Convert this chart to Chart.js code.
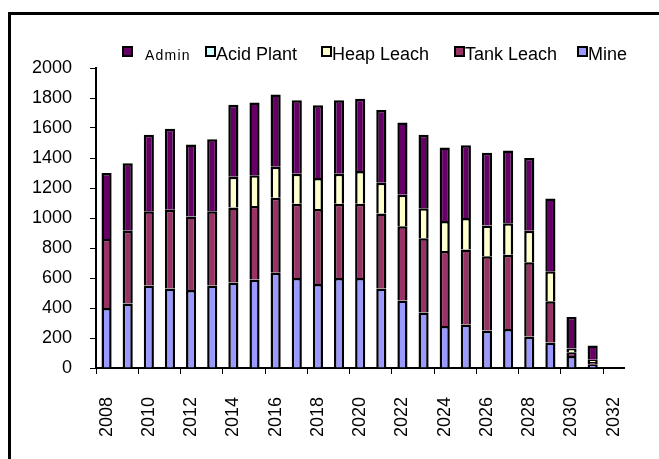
<!DOCTYPE html>
<html>
<head>
<meta charset="utf-8">
<script src="https://cdn.jsdelivr.net/npm/chart.js@4/dist/chart.umd.min.js"></script>
<style>
  html, body { margin: 0; padding: 0; background: #fff; }
  #wrap { position: relative; width: 659px; height: 459px; }
</style>
</head>
<body>
<div id="wrap"><canvas id="c" width="659" height="459"></canvas></div>
<script>
// ---- data ----
const years = ['2008','2009','2010','2011','2012','2013','2014','2015','2016','2017','2018','2019','2020',
               '2021','2022','2023','2024','2025','2026','2027','2028','2029','2030','2031','2032'];
const mine      = [400,430,550,530,520,550,570,590,635,600,560,600,600,530,450,370,280,290,250,260,210,170,80,25,null];
const tankLeach = [460,485,495,525,490,495,500,490,500,495,500,495,495,500,495,495,500,500,495,495,495,275,25,15,null];
const heapLeach = [0,0,0,0,0,0,205,205,207,200,207,200,218,205,210,200,200,210,205,210,210,200,25,15,null];
const acidPlant = [0,0,0,0,0,0,0,0,0,0,0,0,0,0,0,0,0,0,0,0,0,0,0,0,null];
const admin     = [440,450,510,540,480,480,480,485,482,490,484,490,482,485,482,490,490,485,485,485,485,485,210,95,null];
const yTicks    = [0,200,400,600,800,1000,1200,1400,1600,1800,2000];

const FONT = '"Liberation Sans", Arial, sans-serif';
Chart.defaults.font.family = FONT;
Chart.defaults.font.size = 18;
Chart.defaults.color = '#000';

function ds(label, data, color) {
  return { label, data, backgroundColor: color, borderColor: '#000', borderWidth: 2.5,
           barPercentage: 0.48, categoryPercentage: 1.0 };
}

// custom legend + frame (Excel-like, legend listed top-of-stack first)
const legendPlugin = {
  id: 'xlLegend',
  beforeDraw(chart) {
    const ctx = chart.ctx;
    ctx.save();
    ctx.fillStyle = '#fff';
    ctx.fillRect(0, 0, chart.width, chart.height);
    ctx.fillStyle = '#000';
    ctx.fillRect(8, 12, chart.width - 8, 3);
    ctx.fillRect(8, 12, 3, chart.height - 12);
    ctx.restore();
  },
  afterDraw(chart) {
    const ctx = chart.ctx;
    const items = chart.data.datasets.slice().reverse();
    const sqX = [123, 206, 322, 455, 578];
    ctx.save();
    items.forEach((d, i) => {
      const x = sqX[i];
      ctx.fillStyle = d.backgroundColor;
      ctx.fillRect(x, 47, 9, 9);
      ctx.strokeStyle = '#000';
      ctx.lineWidth = 2;
      ctx.strokeRect(x, 47, 9, 9);
      ctx.fillStyle = '#000';
      ctx.textBaseline = 'alphabetic';
      ctx.textAlign = 'left';
      if (i === 0) {
        ctx.font = '14px ' + FONT;
        try { ctx.letterSpacing = '1.2px'; } catch (e) {}
        ctx.fillText(d.label, 145, 60);
        try { ctx.letterSpacing = '0px'; } catch (e) {}
      } else {
        ctx.font = '18px ' + FONT;
        ctx.fillText(d.label, x + 10, 60);
      }
    });
    ctx.restore();
  }
};

new Chart(document.getElementById('c'), {
  type: 'bar',
  data: {
    labels: years,
    datasets: [
      ds('Mine', mine, '#9999FF'),
      ds('Tank Leach', tankLeach, '#993366'),
      ds('Heap Leach', heapLeach, '#FFFFCC'),
      ds('Acid Plant', acidPlant, '#CCFFFF'),
      ds('Admin', admin, '#660066')
    ]
  },
  options: {
    responsive: false,
    animation: false,
    layout: { padding: { top: 68, right: 30, bottom: 0, left: 0 } },
    plugins: { legend: { display: false }, tooltip: { enabled: false } },
    scales: {
      x: {
        stacked: true,
        offset: true,
        border: { display: true, color: '#000', width: 2 },
        grid: {
          display: true, drawOnChartArea: false, offset: true, tickLength: 6, tickWidth: 1,
          tickColor: (c) => (typeof c.index === 'number' && c.index % 2 === 0 && c.index < years.length) ? '#000' : 'rgba(0,0,0,0)'
        },
        ticks: {
          autoSkip: false, maxRotation: 90, minRotation: 90, padding: 23, color: '#000',
          font: { size: 18 },
          callback: function (v, i) { return i % 2 === 0 ? years[i] : ''; }
        },
        afterFit: (s) => { s.height = 91; }
      },
      y: {
        stacked: true,
        min: 0, max: 2000,
        border: { display: true, color: '#000', width: 2 },
        grid: { display: true, drawOnChartArea: false, tickLength: 6, tickColor: '#000', tickWidth: 1 },
        afterBuildTicks: (s) => { s.ticks = yTicks.map(v => ({ value: v })); },
        ticks: { padding: 18, color: '#000', font: { size: 18 }, callback: (v) => String(v) },
        afterFit: (s) => { s.width = 96; }
      }
    }
  },
  plugins: [legendPlugin]
});
</script>
</body>
</html>
